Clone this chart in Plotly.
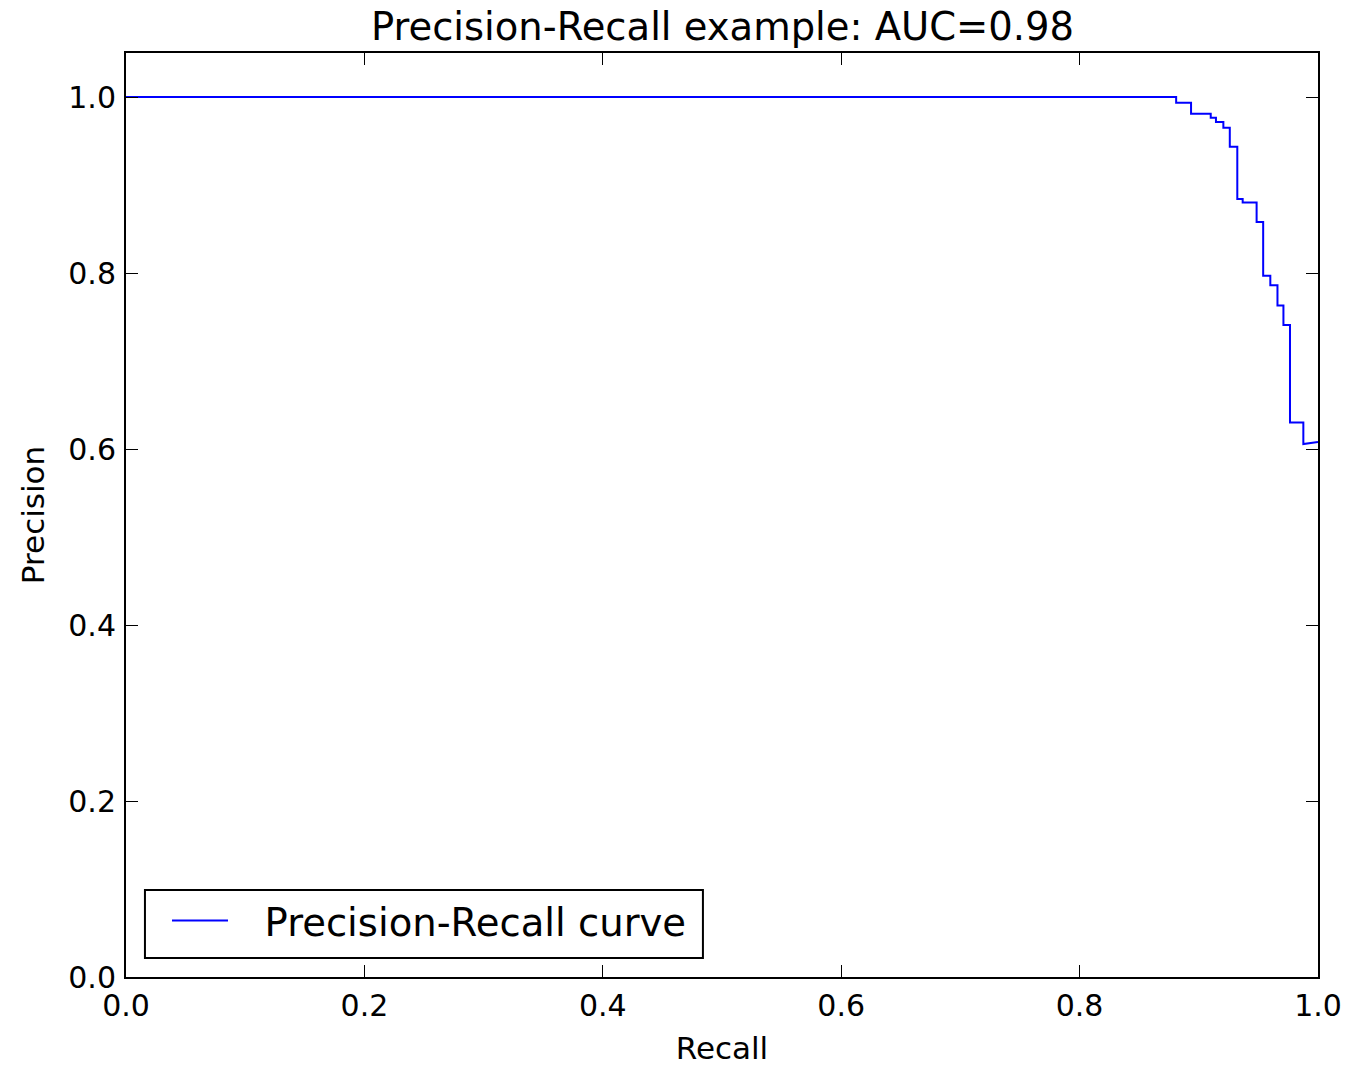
import plotly.graph_objects as go

# Precision-Recall curve vertices
recall = [0.0, 0.881, 0.881, 0.8935, 0.8935, 0.910, 0.910, 0.9144, 0.9144, 0.9206, 0.9206,
          0.926, 0.926, 0.9323, 0.9323, 0.9368, 0.9368, 0.9485, 0.9485, 0.954, 0.954,
          0.960, 0.960, 0.966, 0.966, 0.971, 0.971, 0.9765, 0.9765, 0.9877, 0.9877, 1.0]
precision = [1.0, 1.0, 0.9935, 0.9935, 0.981, 0.981, 0.9765, 0.9765, 0.9716, 0.9716, 0.965,
             0.965, 0.9435, 0.9435, 0.884, 0.884, 0.880, 0.880, 0.858, 0.858, 0.797,
             0.797, 0.786, 0.786, 0.763, 0.763, 0.741, 0.741, 0.630, 0.630, 0.6057, 0.608]

x_ticks = [0.0, 0.2, 0.4, 0.6, 0.8, 1.0]
y_ticks = [0.0, 0.2, 0.4, 0.6, 0.8, 1.0]

fig = go.Figure()
fig.add_trace(go.Scatter(
    x=recall, y=precision, mode="lines",
    line=dict(color="#0000FF", width=2),
    name="\u2002\u00a0Precision-Recall curve",
))

font_family = "DejaVu Sans"
axis_common = dict(
    showgrid=False, zeroline=False, automargin=False,
    showline=True, linecolor="black", linewidth=2, mirror="ticks",
    ticks="inside", ticklen=12, tickwidth=1, tickcolor="black",
    tickfont=dict(family=font_family, size=30, color="black"),
    tickformat=".1f",
)

fig.update_layout(
    width=1346, height=1066,
    paper_bgcolor="white", plot_bgcolor="white",
    margin=dict(l=126, r=28, t=53, b=89),
    title=dict(text="Precision-Recall example: AUC=0.98", x=0.5368, xanchor="center",
               y=0.975, yanchor="middle",
               font=dict(family=font_family, size=38.5, color="black")),
    xaxis=dict(range=[0, 1], tickvals=x_ticks, ticklabelstandoff=1,
               title=dict(text="Recall", font=dict(family=font_family, size=31, color="black"),
                          standoff=17),
               **axis_common),
    yaxis=dict(range=[0, 1.05], tickvals=y_ticks, ticklabelstandoff=2,
               title=dict(text="Precision", font=dict(family=font_family, size=31, color="black"),
                          standoff=14),
               **axis_common),
    showlegend=True,
    legend=dict(x=0.0344, y=0.0607, xanchor="left", yanchor="middle",
                borderwidth=0, bgcolor="rgba(0,0,0,0)",
                font=dict(family=font_family, size=38.6, color="black"),
                itemwidth=56),
    shapes=[dict(type="rect", xref="paper", yref="paper",
                 x0=0.0159, x1=0.484, y0=0.0206, y1=0.0942,
                 line=dict(color="black", width=2), fillcolor="white", layer="above")],
)

fig.write_html("out.html")
